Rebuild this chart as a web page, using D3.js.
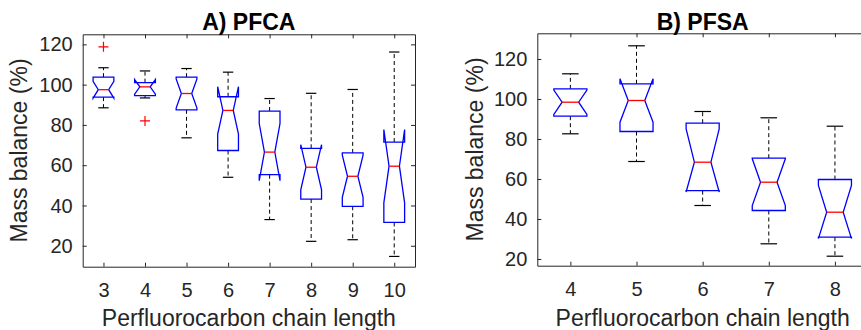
<!DOCTYPE html>
<html>
<head>
<meta charset="utf-8">
<script src="https://cdn.jsdelivr.net/npm/d3@7"></script>
<style>
body{margin:0;background:#fff}
svg{display:block}
text{font-family:"Liberation Sans",Arial,sans-serif}
</style>
</head>
<body>
<svg id="chart" width="861" height="330"></svg>
<script>
// A) PFCA
var pfcaChain = [3, 4, 5, 6, 7, 8, 9, 10];
var pfcaWhiskerHi = [108.4, 106.8, 108, 106.2, 93.1, 95.7, 97.6, 116.2];
var pfcaQ3 = [103.7, 101, 103.7, 94, 86.9, 68.4, 66.1, 71.5];
var pfcaMedian = [97.5, 98.9, 95.6, 87.2, 66.5, 59, 54.5, 59.5];
var pfcaQ1 = [93.8, 94.5, 87.5, 67.3, 55.3, 43.2, 39.6, 31.6];
var pfcaWhiskerLo = [88.5, 93.4, 73.6, 54, 33, 22.2, 23, 14.7];
var pfcaNotchHi = [101.7, 102.5, 102.8, 99, 80.7, 70.2, 65, 77.7];
var pfcaNotchLo = [93.3, 95.3, 88.4, 75.4, 52.3, 47.8, 44, 41.3];
var pfcaOutliers = [[118.8], [82], [], [], [], [], [], []];

// B) PFSA
var pfsaChain = [4, 5, 6, 7, 8];
var pfsaWhiskerHi = [112.6, 126.6, 93.75, 90.6, 86.4];
var pfsaQ3 = [105.1, 107.6, 87.9, 70.4, 59.75];
var pfsaMedian = [98.4, 99.25, 68.4, 58.4, 43.4];
var pfsaQ1 = [91.4, 83.75, 54.2, 44.25, 30.9];
var pfsaWhiskerLo = [82.6, 68.75, 46.75, 27.6, 21.4];
var pfsaNotchHi = [104.5, 110.1, 85.1, 70.1, 56.8];
var pfsaNotchLo = [92.3, 88.4, 53.5, 46.7, 30.2];
var pfsaOutliers = [[], [], [], [], []];

var yTickValues = [20, 40, 60, 80, 100, 120];
var axisLabelX = "Perfluorocarbon chain length";
var axisLabelY = "Mass balance (%)";

var svg = d3.select("#chart");
var ink = "#262626";

function drawPanel(p) {
    var x = d3.scaleLinear().domain(p.xDomain).range([p.left, p.right]);
    var y = d3.scaleLinear().domain(p.yDomain).range([p.bottom, p.top]);
    var g = svg.append("g");

    // axes, MATLAB style: ticks inside on all four sides
    var bottom = g.append("g").attr("transform", "translate(0," + p.bottom + ")")
        .call(d3.axisBottom(x).tickValues(p.cats).tickFormat(d3.format("d")).tickSizeInner(-4).tickSizeOuter(0).tickPadding(16));
    var top = g.append("g").attr("transform", "translate(0," + p.top + ")")
        .call(d3.axisTop(x).tickValues(p.cats).tickFormat("").tickSizeInner(-4).tickSizeOuter(0));
    var left = g.append("g").attr("transform", "translate(" + p.left + ",0)")
        .call(d3.axisLeft(y).tickValues(yTickValues).tickFormat(d3.format("d")).tickSizeInner(-4).tickSizeOuter(0).tickPadding(10));
    var right = g.append("g").attr("transform", "translate(" + p.right + ",0)")
        .call(d3.axisRight(y).tickValues(yTickValues).tickFormat("").tickSizeInner(-4).tickSizeOuter(0));
    [bottom, top, left, right].forEach(function(a){
        a.selectAll("path,line").attr("stroke", ink).attr("stroke-width", 1);
        a.selectAll("text").attr("fill", ink).attr("font-size", 20)
            .style("font-family", '"Liberation Sans",Arial,sans-serif');
    });
    left.selectAll("text").attr("dy", "0.33em");

    var boxes = p.cats.map(function(c, i){
        return {c: c, hi: p.whiskerHi[i], q3: p.q3[i], med: p.median[i], q1: p.q1[i],
            lo: p.whiskerLo[i], nhi: p.notchHi[i], nlo: p.notchLo[i], out: p.outliers[i]};
    });
    var hw = x(p.cats[0] + 0.25) - x(p.cats[0]);
    var cw = hw / 2;

    var b = g.selectAll(".box").data(boxes).enter().append("g").attr("class", "box");

    // whiskers (dashed) and caps
    b.append("line").attr("x1", function(d){return x(d.c)}).attr("x2", function(d){return x(d.c)})
        .attr("y1", function(d){return y(d.q3)}).attr("y2", function(d){return y(d.hi)})
        .attr("stroke", "#000").attr("stroke-width", 1).attr("stroke-dasharray", "4,3");
    b.append("line").attr("x1", function(d){return x(d.c)}).attr("x2", function(d){return x(d.c)})
        .attr("y1", function(d){return y(d.q1)}).attr("y2", function(d){return y(d.lo)})
        .attr("stroke", "#000").attr("stroke-width", 1).attr("stroke-dasharray", "4,3");
    b.append("line").attr("x1", function(d){return x(d.c) - cw}).attr("x2", function(d){return x(d.c) + cw})
        .attr("y1", function(d){return y(d.hi)}).attr("y2", function(d){return y(d.hi)})
        .attr("stroke", "#000").attr("stroke-width", 1.2);
    b.append("line").attr("x1", function(d){return x(d.c) - cw}).attr("x2", function(d){return x(d.c) + cw})
        .attr("y1", function(d){return y(d.lo)}).attr("y2", function(d){return y(d.lo)})
        .attr("stroke", "#000").attr("stroke-width", 1.2);

    // notched box outline
    b.append("path")
        .attr("d", function(d){
            var cx = x(d.c);
            var pts = [
                [cx - hw, y(d.q1)], [cx - hw, y(d.nlo)], [cx - hw / 2, y(d.med)],
                [cx - hw, y(d.nhi)], [cx - hw, y(d.q3)], [cx + hw, y(d.q3)],
                [cx + hw, y(d.nhi)], [cx + hw / 2, y(d.med)], [cx + hw, y(d.nlo)],
                [cx + hw, y(d.q1)]
            ];
            return d3.line()(pts) + "Z";
        })
        .attr("fill", "none").attr("stroke", "#0000ff").attr("stroke-width", 1.3)
        .attr("stroke-linejoin", "miter");

    // median
    b.append("line").attr("x1", function(d){return x(d.c) - hw / 2}).attr("x2", function(d){return x(d.c) + hw / 2})
        .attr("y1", function(d){return y(d.med)}).attr("y2", function(d){return y(d.med)})
        .attr("stroke", "#ff0000").attr("stroke-width", 1.3);

    // outliers
    b.each(function(d){
        var sel = d3.select(this);
        d.out.forEach(function(v){
            var cx = x(d.c), cy = y(v);
            sel.append("path").attr("d", "M" + (cx - 5) + "," + cy + "H" + (cx + 5) + "M" + cx + "," + (cy - 5) + "V" + (cy + 5))
                .attr("stroke", "#ff0000").attr("stroke-width", 1.2).attr("fill", "none");
        });
    });

    // title and labels
    var mid = (p.left + p.right) / 2;
    g.append("text").attr("x", mid).attr("y", 30).attr("text-anchor", "middle")
        .attr("font-size", 23).attr("font-weight", "bold").attr("fill", "#000").text(p.title);
    g.append("text").attr("x", mid).attr("y", 325.5).attr("text-anchor", "middle")
        .attr("font-size", 23).attr("fill", ink).text(axisLabelX);
    g.append("text").attr("transform", "translate(" + p.yLabelX + "," + ((p.top + p.bottom) / 2) + ") rotate(-90)")
        .attr("text-anchor", "middle").attr("font-size", 23).attr("fill", ink).text(axisLabelY);
}

drawPanel({
    title: "A) PFCA", left: 82.7, right: 415, top: 34.3, bottom: 266.7,
    xDomain: [2.5, 10.5], yDomain: [9.6, 125], yLabelX: 27,
    cats: pfcaChain, whiskerHi: pfcaWhiskerHi, q3: pfcaQ3, median: pfcaMedian, q1: pfcaQ1,
    whiskerLo: pfcaWhiskerLo, notchHi: pfcaNotchHi, notchLo: pfcaNotchLo, outliers: pfcaOutliers
});

drawPanel({
    title: "B) PFSA", left: 537.3, right: 868, top: 33.3, bottom: 265.7,
    xDomain: [3.5, 8.5], yDomain: [16.65, 132.85], yLabelX: 483,
    cats: pfsaChain, whiskerHi: pfsaWhiskerHi, q3: pfsaQ3, median: pfsaMedian, q1: pfsaQ1,
    whiskerLo: pfsaWhiskerLo, notchHi: pfsaNotchHi, notchLo: pfsaNotchLo, outliers: pfsaOutliers
});
</script>
</body>
</html>
